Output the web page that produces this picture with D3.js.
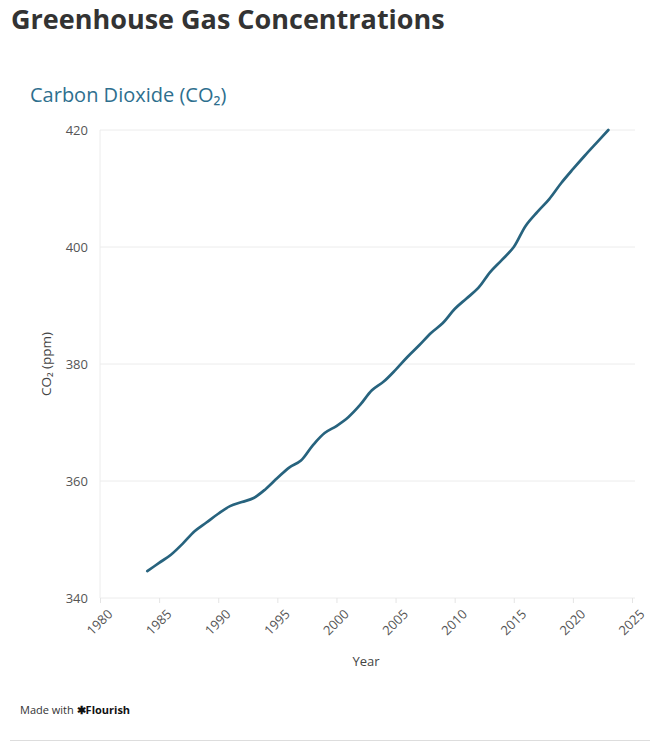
<!DOCTYPE html>
<html>
<head>
<meta charset="utf-8">
<script src="https://cdn.jsdelivr.net/npm/d3@7"></script>
<style>
  body { margin: 0; background: #fff; font-family: "Open Sans", "Noto Sans", sans-serif; }
</style>
</head>
<body>
<svg id="chart" width="650" height="743"></svg>
<script>
const years = [1984, 1985, 1986, 1987, 1988, 1989, 1990, 1991, 1992, 1993,
  1994, 1995, 1996, 1997, 1998, 1999, 2000, 2001, 2002, 2003,
  2004, 2005, 2006, 2007, 2008, 2009, 2010, 2011, 2012, 2013,
  2014, 2015, 2016, 2017, 2018, 2019, 2020, 2021, 2022, 2023];
const co2 = [344.6, 346.0, 347.4, 349.3, 351.4, 352.9, 354.4, 355.7, 356.4, 357.1,
  358.6, 360.5, 362.3, 363.5, 366.1, 368.2, 369.4, 370.9, 373.0, 375.5,
  377.0, 379.0, 381.2, 383.2, 385.3, 387.0, 389.4, 391.2, 393.0, 395.7,
  397.8, 400.0, 403.6, 406.0, 408.2, 410.9, 413.3, 415.6, 417.8, 420.0];
const xTicks = [1980, 1985, 1990, 1995, 2000, 2005, 2010, 2015, 2020, 2025];
const yTicks = [340, 360, 380, 400, 420];

const data = years.map((y, i) => ({year: y, value: co2[i]}));

const svg = d3.select("#chart");
const plotLeft = 100, plotRight = 632, plotTop = 130, plotBottom = 598;

const x = d3.scaleLinear().domain([1980, 2025]).range([plotLeft, plotRight]);
const y = d3.scaleLinear().domain([340, 420]).range([plotBottom, plotTop]);

// titles
svg.append("text")
  .attr("x", 11).attr("y", 29)
  .style("font-size", "27px").style("font-weight", "bold")
  .style("fill", "#333")
  .text("Greenhouse Gas Concentrations");

svg.append("text")
  .attr("x", 30).attr("y", 102)
  .style("font-size", "20px")
  .style("fill", "#2e6f8e")
  .text("Carbon Dioxide (CO₂)");

// grid
svg.append("g")
  .selectAll("line")
  .data(yTicks)
  .enter().append("line")
  .attr("x1", plotLeft).attr("x2", 635)
  .attr("y1", d => y(d)).attr("y2", d => y(d))
  .style("stroke", "#ececec");

svg.append("line")
  .attr("x1", plotLeft).attr("x2", plotLeft)
  .attr("y1", plotTop).attr("y2", plotBottom)
  .style("stroke", "#ececec");

// y axis
const yAxis = svg.append("g")
  .attr("transform", `translate(${plotLeft - 12},0)`)
  .call(d3.axisLeft(y).tickValues(yTicks).tickSize(0).tickPadding(0));
yAxis.select(".domain").remove();
yAxis.selectAll("text")
  .style("font-family", "Open Sans, sans-serif")
  .style("font-size", "13px")
  .style("fill", "#555");

// x axis
const xAxis = svg.append("g")
  .attr("transform", `translate(0,${plotBottom})`)
  .call(d3.axisBottom(x).tickValues(xTicks).tickFormat(d3.format("d")).tickSize(5).tickPadding(3));
xAxis.select(".domain").remove();
xAxis.selectAll("line").style("stroke", "#e4e4e4");
xAxis.selectAll("text")
  .style("font-family", "Open Sans, sans-serif")
  .style("font-size", "13px")
  .style("fill", "#555")
  .attr("text-anchor", "end")
  .attr("dy", "0.35em")
  .attr("transform", "translate(4,8) rotate(-45)");

// axis titles
svg.append("text")
  .attr("transform", `translate(51,${(plotTop + plotBottom) / 2}) rotate(-90)`)
  .attr("text-anchor", "middle")
  .style("font-size", "13.5px").style("fill", "#444")
  .text("CO₂ (ppm)");

svg.append("text")
  .attr("x", 366).attr("y", 666)
  .attr("text-anchor", "middle")
  .style("font-size", "13px").style("fill", "#444")
  .text("Year");

// line
const line = d3.line()
  .x(d => x(d.year))
  .y(d => y(d.value))
  .curve(d3.curveCatmullRom.alpha(0.5));

svg.append("path")
  .datum(data)
  .attr("d", line)
  .style("fill", "none")
  .style("stroke", "#27637e")
  .style("stroke-width", 2.7)
  .style("stroke-linecap", "round");

// footer
const foot = svg.append("text")
  .attr("x", 20).attr("y", 714)
  .style("font-size", "11px").style("fill", "#333");
foot.append("tspan").text("Made with ");
foot.append("tspan").style("font-weight", "bold").style("fill", "#111").text("✱Flourish");

svg.append("line")
  .attr("x1", 10).attr("x2", 650)
  .attr("y1", 740.5).attr("y2", 740.5)
  .style("stroke", "#ddd");
</script>
</body>
</html>
